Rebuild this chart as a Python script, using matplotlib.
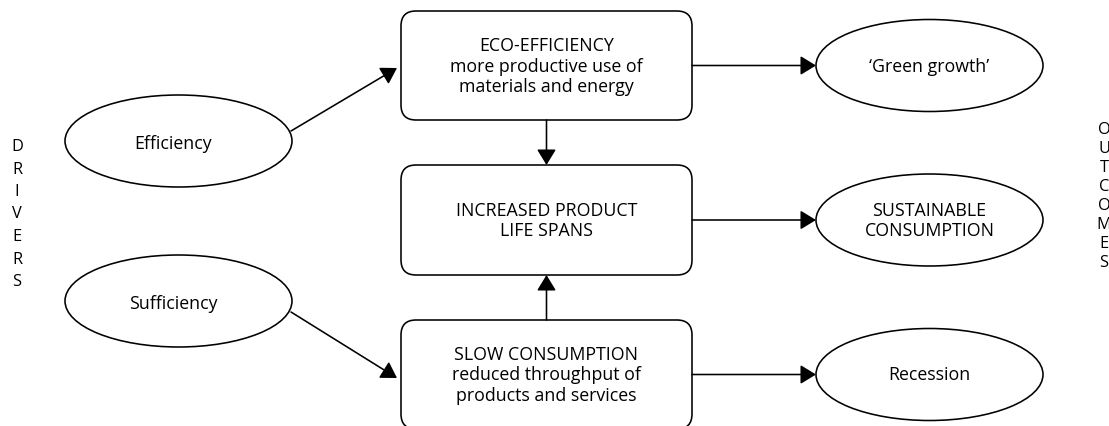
import matplotlib.pyplot as plt
from matplotlib.patches import Ellipse, FancyBboxPatch, FancyArrowPatch

plt.rcParams['font.family'] = ['Open Sans', 'DejaVu Sans']

# diagram content
drivers = ["Efficiency", "Sufficiency"]
processes = [
    "ECO-EFFICIENCY\nmore productive use of\nmaterials and energy",
    "INCREASED PRODUCT\nLIFE SPANS",
    "SLOW CONSUMPTION\nreduced throughput of\nproducts and services",
]
outcomes = ["\u2018Green growth\u2019", "SUSTAINABLE\nCONSUMPTION", "Recession"]
left_label = "DRIVERS"
right_label = "OUTCOMES"

# layout, in pixels of the 1109x426 canvas (y grows downward)
W, H = 1109, 426
box_x0, box_x1 = 401, 692
box_rows = [(11, 120), (165, 275), (320, 429)]
drv_cx, drv_rx, drv_ry = 178.5, 113.5, 46
drv_cy = [141, 301]
out_cx, out_rx, out_ry = 929.5, 113.5, 46
lw = 1.15
fs = 12.8

fig = plt.figure(figsize=(W / 100, H / 100), dpi=100)
ax = fig.add_axes([0, 0, 1, 1])
ax.set_xlim(0, W)
ax.set_ylim(H, 0)
ax.axis('off')


def arrow(p0, p1):
    ax.add_patch(FancyArrowPatch(p0, p1, arrowstyle='-|>,head_length=0.95,head_width=0.58',
                                 mutation_scale=10, color='black', lw=lw,
                                 shrinkA=0, shrinkB=0))


# process boxes
box_cy = []
for (y0, y1), label in zip(box_rows, processes):
    ax.add_patch(FancyBboxPatch((box_x0, y0), box_x1 - box_x0, y1 - y0,
                                boxstyle='round,pad=0,rounding_size=15',
                                fc='white', ec='black', lw=lw))
    cy = (y0 + y1) / 2
    box_cy.append(cy)
    ax.text((box_x0 + box_x1) / 2, cy + 1, label, ha='center', va='center',
            fontsize=fs, linespacing=1.2)

# driver ellipses
for cy, label in zip(drv_cy, drivers):
    ax.add_patch(Ellipse((drv_cx, cy), 2 * drv_rx, 2 * drv_ry, fc='white', ec='black', lw=lw))
    ax.text(drv_cx - 5, cy + 3, label, ha='center', va='center', fontsize=fs)

# outcome ellipses
for cy, label in zip(box_cy, outcomes):
    ax.add_patch(Ellipse((out_cx, cy), 2 * out_rx, 2 * out_ry, fc='white', ec='black', lw=lw))
    ax.text(out_cx, cy + 1, label, ha='center', va='center', fontsize=fs, linespacing=1.2)
    arrow((box_x1, cy), (out_cx - out_rx, cy))

# drivers -> boxes
arrow((291, 131), (397, 68))
arrow((291, 312), (397, 378))

# vertical arrows into middle box
mid_x = (box_x0 + box_x1) / 2
arrow((mid_x, box_rows[0][1]), (mid_x, box_rows[1][0]))
arrow((mid_x, box_rows[2][0]), (mid_x, box_rows[1][1]))

# side labels written vertically
for i, ch in enumerate(left_label):
    ax.text(17, 147 + 22.5 * i, ch, ha='center', va='center', fontsize=fs - 1)
for i, ch in enumerate(right_label):
    ax.text(1104, 130 + 19 * i, ch, ha='center', va='center', fontsize=fs - 1)

fig.savefig('out.png', dpi=100)
